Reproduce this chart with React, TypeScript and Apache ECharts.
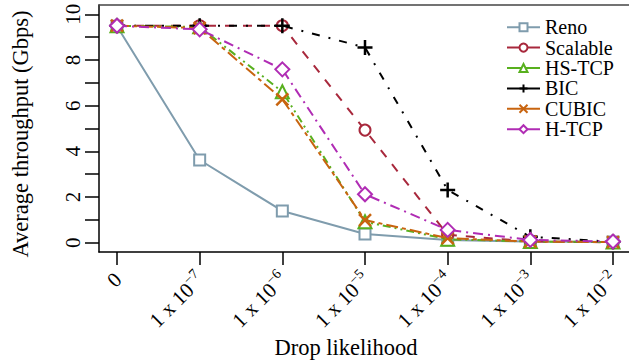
import React, { useEffect, useRef } from "react";
import * as echarts from "echarts";

const categories = ["{n|0}", "{n|1 x 10}{sup|−7}", "{n|1 x 10}{sup|−6}", "{n|1 x 10}{sup|−5}", "{n|1 x 10}{sup|−4}", "{n|1 x 10}{sup|−3}", "{n|1 x 10}{sup|−2}"];
const yTicks = [0, 2, 4, 6, 8, 10];
const seriesNames = ["Reno", "Scalable", "HS-TCP", "BIC", "CUBIC", "H-TCP"];
const reno = [9.48, 3.62, 1.39, 0.38, 0.12, 0.05, 0.03];
const scalable = [9.5, 9.5, 9.5, 4.93, 0.35, 0.05, 0.02];
const hstcp = [9.5, 9.45, 6.61, 0.92, 0.15, 0.05, 0.03];
const bic = [9.5, 9.5, 9.5, 8.55, 2.31, 0.26, 0.04];
const cubic = [9.5, 9.4, 6.28, 0.99, 0.2, 0.05, 0.03];
const htcp = [9.5, 9.34, 7.59, 2.12, 0.56, 0.12, 0.05];

const FONT = "Liberation Serif";

const styles = [
  { color: "#7f9cad", symbol: "rect", size: 11, dash: "solid", hollow: true },
  { color: "#a8283c", symbol: "circle", size: 11, dash: [9, 9], hollow: true },
  { color: "#58b01e", symbol: "triangle", size: 13, dash: [8, 4, 2, 4, 2, 4], hollow: true },
  { color: "#000000", symbol: "path://M5,0 L5,10 M0,5 L10,5", size: 15, dash: [8, 9, 2, 9], hollow: false },
  { color: "#c8640f", symbol: "path://M0,0 L10,10 M0,10 L10,0", size: 12, dash: [12, 4, 4, 4], hollow: false },
  { color: "#b02cb4", symbol: "diamond", size: 14, dash: [10, 5, 2, 5], hollow: true },
];

const allData = [reno, scalable, hstcp, bic, cubic, htcp];

export default function App() {
  const ref = useRef<HTMLDivElement>(null);
  useEffect(() => {
    if (!ref.current) return;
    const chart = echarts.init(ref.current, null, { renderer: "svg" });
    const xScale = 82.667;
    const yScale = 22.84;
    const option: any = {
      animation: false,
      textStyle: { fontFamily: FONT },
      grid: [
        { left: 99, right: 0, top: 5, bottom: 108 },
        { left: 117, right: 16, top: 14.3, bottom: 117.3 },
      ],
      xAxis: [
        {
          type: "value", gridIndex: 0, min: -18 / xScale, max: 6 + 16 / xScale,
          axisLine: { show: true, onZero: false, lineStyle: { color: "#000", width: 1.5 } },
          axisTick: { show: false }, axisLabel: { show: false }, splitLine: { show: false },
        },
        {
          type: "value", gridIndex: 1, min: 0, max: 6, interval: 1, position: "bottom", offset: 9.3,
          axisLine: { show: false, onZero: false },
          axisTick: { show: true, length: 13, lineStyle: { color: "#000", width: 1.5 } },
          axisLabel: {
            show: true, rotate: 45, margin: 23, color: "#000", fontFamily: FONT, fontSize: 21,
            formatter: (v: number) => categories[Math.round(v)] ?? "",
            rich: {
              n: { fontSize: 21, fontFamily: FONT, color: "#000", lineHeight: 24, verticalAlign: "bottom" },
              sup: { fontSize: 14, fontFamily: FONT, color: "#000", lineHeight: 18, verticalAlign: "top" },
            },
          },
          splitLine: { show: false },
        },
        {
          type: "value", gridIndex: 0, min: -18 / xScale, max: 6 + 16 / xScale, position: "top",
          axisLine: { show: true, onZero: false, lineStyle: { color: "#444", width: 1.5 } },
          axisTick: { show: false }, axisLabel: { show: false }, splitLine: { show: false },
        },
      ],
      yAxis: [
        {
          type: "value", gridIndex: 0, min: -(252 - 242.7) / yScale, max: 10 + (14.3 - 5) / yScale,
          axisLine: { show: true, onZero: false, lineStyle: { color: "#000", width: 1.5 } },
          axisTick: { show: false }, axisLabel: { show: false }, splitLine: { show: false },
        },
        {
          type: "value", gridIndex: 1, min: 0, max: 10, interval: 1, position: "left", offset: 18,
          axisLine: { show: false, onZero: false },
          axisTick: { show: true, length: 14, lineStyle: { color: "#000", width: 1.5 } },
          axisLabel: {
            show: true, rotate: 90, margin: 16, color: "#000", fontFamily: FONT, fontSize: 21,
            formatter: (v: number) => (yTicks.includes(v) ? String(v) : ""),
          },
          splitLine: { show: false },
        },
      ],
      legend: {
        show: true,
        left: 506, top: 17, orient: "vertical", padding: 0,
        itemWidth: 33, itemHeight: 10, itemGap: 0,
        textStyle: { fontFamily: FONT, fontSize: 20, color: "#000", lineHeight: 20.4 },
        lineStyle: { type: "solid" },
        data: seriesNames,
      },
      graphic: [
        {
          type: "text", x: 20, y: 134, rotation: Math.PI / 2,
          style: { text: "Average throughput (Gbps)", fontFamily: FONT, fontSize: 22.5, fill: "#000", align: "center", verticalAlign: "middle" },
        },
        {
          type: "text", x: 346, y: 347,
          style: { text: "Drop likelihood", fontFamily: FONT, fontSize: 22.5, fill: "#000", align: "center", verticalAlign: "middle" },
        },
      ],
      series: seriesNames.map((name, i) => {
        const s = styles[i];
        return {
          name, type: "line", xAxisIndex: 0, yAxisIndex: 0, clip: false,
          data: allData[i].map((v, j) => [j, v]),
          symbol: s.symbol, symbolSize: s.size,
          color: s.color,
          lineStyle: { color: s.color, width: 2, type: s.dash },
          itemStyle: s.hollow
            ? { color: "#fff", borderColor: s.color, borderWidth: 2 }
            : { color: s.color, borderColor: s.color, borderWidth: 2.5 },
          emphasis: { disabled: true },
          z: 2 + i,
        };
      }),
    };
    chart.setOption(option);
    return () => chart.dispose();
  }, []);
  return <div ref={ref} style={{ position: "absolute", left: 0, top: 0, width: 629, height: 360 }} />;
}
